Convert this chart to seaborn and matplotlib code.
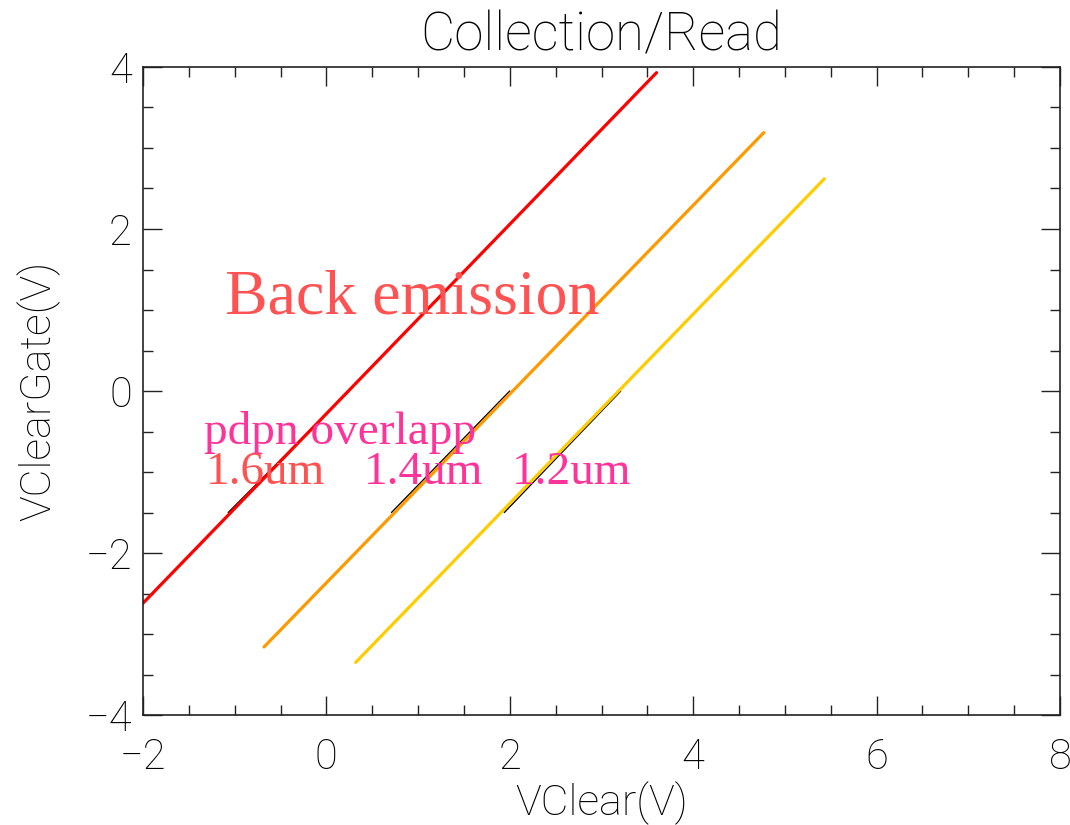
import matplotlib
matplotlib.use("Agg")
import matplotlib.pyplot as plt
from matplotlib.ticker import MultipleLocator
import numpy as np
import pandas as pd
import seaborn as sns

# Simulated VClearGate vs VClear threshold lines for three pdpn overlaps
overlaps = ["1.6um", "1.4um", "1.2um"]
line_colors = ["#FF0000", "#FF9900", "#FFCC00"]
sim_x = [[-2.00, 3.60], [-0.68, 4.77], [0.32, 5.43]]
sim_y = [[-2.62, 3.93], [-3.16, 3.19], [-3.35, 2.62]]

# Measured segments (thin black)
meas_x = [[-1.07, 0.25], [0.71, 2.00], [1.94, 3.21]]
meas_y = [[-1.50, 0.00], [-1.50, 0.00], [-1.50, 0.00]]

sim = pd.DataFrame({
    "VClear": np.concatenate(sim_x),
    "VClearGate": np.concatenate(sim_y),
    "overlap": np.repeat(overlaps, 2),
})
meas = pd.DataFrame({
    "VClear": np.concatenate(meas_x),
    "VClearGate": np.concatenate(meas_y),
    "overlap": np.repeat(overlaps, 2),
})

sns.set_style("ticks")
plt.rcParams["font.family"] = ["Roboto", "DejaVu Sans"]
plt.rcParams["text.color"] = "black"
plt.rcParams["axes.labelcolor"] = "black"
plt.rcParams["xtick.color"] = "black"
plt.rcParams["ytick.color"] = "black"

fig = plt.figure(figsize=(10.7, 8.25), dpi=100)
ax = fig.add_axes([0.1336, 0.1333, 0.8571, 0.7855])

sns.lineplot(data=meas, x="VClear", y="VClearGate", units="overlap",
             estimator=None, sort=False, color="black", lw=1.0, ax=ax)
sns.lineplot(data=sim, x="VClear", y="VClearGate", hue="overlap",
             palette=dict(zip(overlaps, line_colors)), sort=False,
             estimator=None, lw=2.3, ax=ax, legend=False)

ax.set_xlim(-2, 8)
ax.set_ylim(-4, 4)
ax.xaxis.set_major_locator(MultipleLocator(2))
ax.xaxis.set_minor_locator(MultipleLocator(0.5))
ax.yaxis.set_major_locator(MultipleLocator(2))
ax.yaxis.set_minor_locator(MultipleLocator(0.5))
ax.tick_params(which="both", direction="in", top=True, right=True,
               color="#222222", width=1.0)
ax.tick_params(which="major", length=14)
ax.tick_params(which="minor", length=7)
ax.tick_params(axis="x", which="major", pad=16, labelsize=30)
ax.tick_params(axis="y", which="major", pad=8, labelsize=30)
for lab in ax.get_xticklabels() + ax.get_yticklabels():
    lab.set_fontweight("light")
for sp in ax.spines.values():
    sp.set_visible(True)
    sp.set_linewidth(1.2)
    sp.set_color("#222222")

ax.set_xlabel("VClear(V)", fontsize=31, fontweight="light", labelpad=2)
ax.set_ylabel("VClearGate(V)", fontsize=31, fontweight="light", labelpad=18)
ax.set_title("Collection/Read", fontsize=38, fontweight="light", pad=12)

serif = ["Liberation Serif", "DejaVu Serif"]
ax.text(-1.11, 0.96, "Back emission", family=serif, fontsize=46,
        color="#FF5252", ha="left", va="baseline")
ax.text(-1.33, -0.66, "pdpn overlapp", family=serif, fontsize=34,
        color="#FF3399", ha="left", va="baseline")
label_x = [-1.31, 0.41, 2.02]
label_colors = ["#FF5252", "#FF3399", "#FF3399"]
for lx, name, c in zip(label_x, overlaps, label_colors):
    ax.text(lx, -1.15, name, family=serif, fontsize=34, color=c,
            ha="left", va="baseline")

fig.savefig("out.png", dpi=100)
